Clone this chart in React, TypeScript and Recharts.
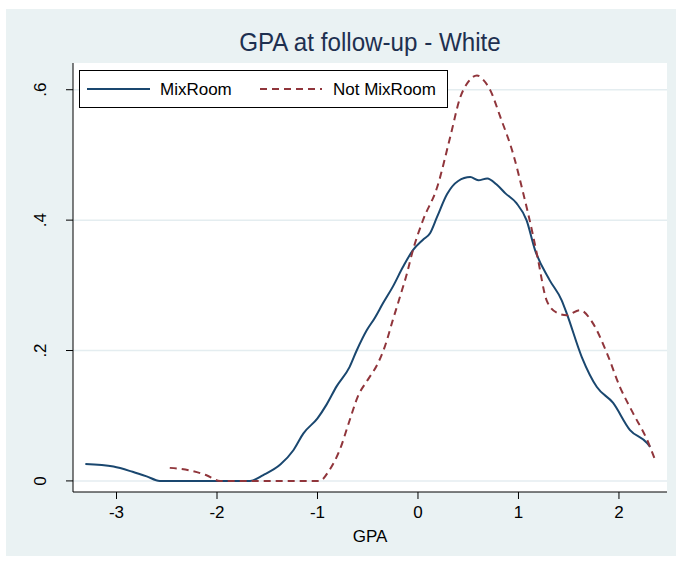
import { LineChart, Line, XAxis, YAxis, CartesianGrid, Legend } from "recharts"

// kernel density estimates
const gpaMix = [-3.31, -3.03, -2.84, -2.7, -2.57, -2.2, -1.9, -1.67, -1.54, -1.37, -1.24, -1.14, -1.0, -0.91, -0.81, -0.68, -0.61, -0.51, -0.43, -0.35, -0.25, -0.15, -0.05, 0.05, 0.12, 0.19, 0.29, 0.4, 0.52, 0.6, 0.69, 0.78, 0.87, 0.98, 1.08, 1.165, 1.31, 1.43, 1.48, 1.63, 1.78, 1.94, 2.11, 2.28, 2.31]
const densMix = [0.026, 0.022, 0.014, 0.007, 0, 0, 0, 0, 0.009, 0.025, 0.047, 0.073, 0.096, 0.117, 0.145, 0.175, 0.2, 0.231, 0.25, 0.272, 0.298, 0.328, 0.354, 0.37, 0.38, 0.405, 0.44, 0.46, 0.466, 0.461, 0.464, 0.455, 0.441, 0.426, 0.4, 0.354, 0.308, 0.277, 0.257, 0.19, 0.144, 0.12, 0.078, 0.058, 0.052]

const gpaNot = [-2.47, -2.27, -2.11, -1.97, -1.5, -0.98, -0.88, -0.78, -0.68, -0.6, -0.5, -0.4, -0.33, -0.25, -0.18, -0.11, -0.05, 0.05, 0.19, 0.32, 0.42, 0.5, 0.587, 0.65, 0.72, 0.82, 0.95, 1.04, 1.14, 1.19, 1.28, 1.38, 1.48, 1.61, 1.74, 1.88, 2.01, 2.14, 2.28, 2.36]
const densNot = [0.02, 0.016, 0.009, 0, 0, 0, 0.017, 0.047, 0.093, 0.129, 0.155, 0.18, 0.206, 0.247, 0.282, 0.318, 0.354, 0.4, 0.45, 0.527, 0.588, 0.612, 0.622, 0.615, 0.599, 0.558, 0.5, 0.446, 0.38, 0.343, 0.277, 0.258, 0.254, 0.262, 0.242, 0.196, 0.144, 0.104, 0.063, 0.032]

const xTicks = [-3, -2, -1, 0, 1, 2]
const yTicks = [0, 0.2, 0.4, 0.6]
const yTickLabels = ["0", ".2", ".4", ".6"]

const mixData = gpaMix.map((x, i) => ({ x, y: densMix[i] }))
const notData = gpaNot.map((x, i) => ({ x, y: densNot[i] }))

const FONT = "'Liberation Sans Narrow', 'Arial Narrow', 'Liberation Sans', Arial, sans-serif"
const NAVY = "#1a476f"
const MAROON = "#90353b"

function YTick(props: any) {
  const { y, payload } = props
  const label = yTickLabels[yTicks.indexOf(payload.value)] ?? String(payload.value)
  return (
    <text x={46} y={y} transform={`rotate(-90 46 ${y})`} textAnchor="middle" fontSize={17} fill="#000" fontFamily={FONT}>
      {label}
    </text>
  )
}

function LegendBox() {
  return (
    <svg width={370} height={39} style={{ display: "block" }}>
      <rect x={0.5} y={0.5} width={368} height={37} fill="#fff" stroke="#000" strokeWidth={1} />
      <line x1={8} x2={71} y1={19} y2={19} stroke={NAVY} strokeWidth={2} />
      <text x={81} y={25} fontSize={17} fontFamily={FONT} fill="#000">MixRoom</text>
      <line x1={181} x2={243} y1={19} y2={19} stroke={MAROON} strokeWidth={2} strokeDasharray="7 5" />
      <text x={254} y={25} fontSize={17} fontFamily={FONT} fill="#000">Not MixRoom</text>
    </svg>
  )
}

export default function App() {
  return (
    <div style={{ position: "absolute", left: 0, top: 0, width: 681, height: 565, background: "#fff" }}>
      <div style={{ position: "absolute", left: 6, top: 9, width: 670, height: 547, background: "#eaf2f3" }} />
      <div
        style={{
          position: "absolute",
          left: 73,
          top: 27,
          width: 594,
          textAlign: "center",
          fontFamily: FONT,
          fontSize: 26,
          color: "#1e3050",
          transform: "scaleX(0.93)",
        }}
      >
        GPA at follow-up - White
      </div>
      <div style={{ position: "absolute", left: 0, top: 0 }}>
        <LineChart width={681} height={565} margin={{ top: 63, right: 14, bottom: 0, left: 0 }}>
          <CartesianGrid vertical={false} fill="#fff" stroke="#e4edf0" strokeWidth={1.5} horizontalValues={yTicks} />
          <XAxis
            type="number"
            dataKey="x"
            domain={[-3.433, 2.478]}
            ticks={xTicks}
            allowDataOverflow
            height={73}
            stroke="#000"
            tickSize={7}
            tick={{ fontSize: 17, fill: "#000", fontFamily: FONT, dy: 5 }}
            label={{ value: "GPA", position: "insideTop", offset: 38, fontSize: 17, fill: "#000", fontFamily: FONT }}
          />
          <YAxis
            type="number"
            dataKey="y"
            domain={[-0.017, 0.641]}
            ticks={yTicks}
            allowDataOverflow
            width={73}
            stroke="#000"
            tickSize={7}
            tick={<YTick />}
          />
          <Legend
            layout="horizontal"
            verticalAlign="middle"
            align="center"
            wrapperStyle={{ position: "absolute", left: 79, top: 70, width: 370, height: 39 }}
            content={() => <LegendBox />}
          />
          <Line data={mixData} dataKey="y" type="monotone" stroke={NAVY} strokeWidth={2} dot={false} isAnimationActive={false} name="MixRoom" />
          <Line data={notData} dataKey="y" type="monotone" stroke={MAROON} strokeWidth={2} strokeDasharray="7 5" dot={false} isAnimationActive={false} name="Not MixRoom" />
        </LineChart>
      </div>
    </div>
  )
}
